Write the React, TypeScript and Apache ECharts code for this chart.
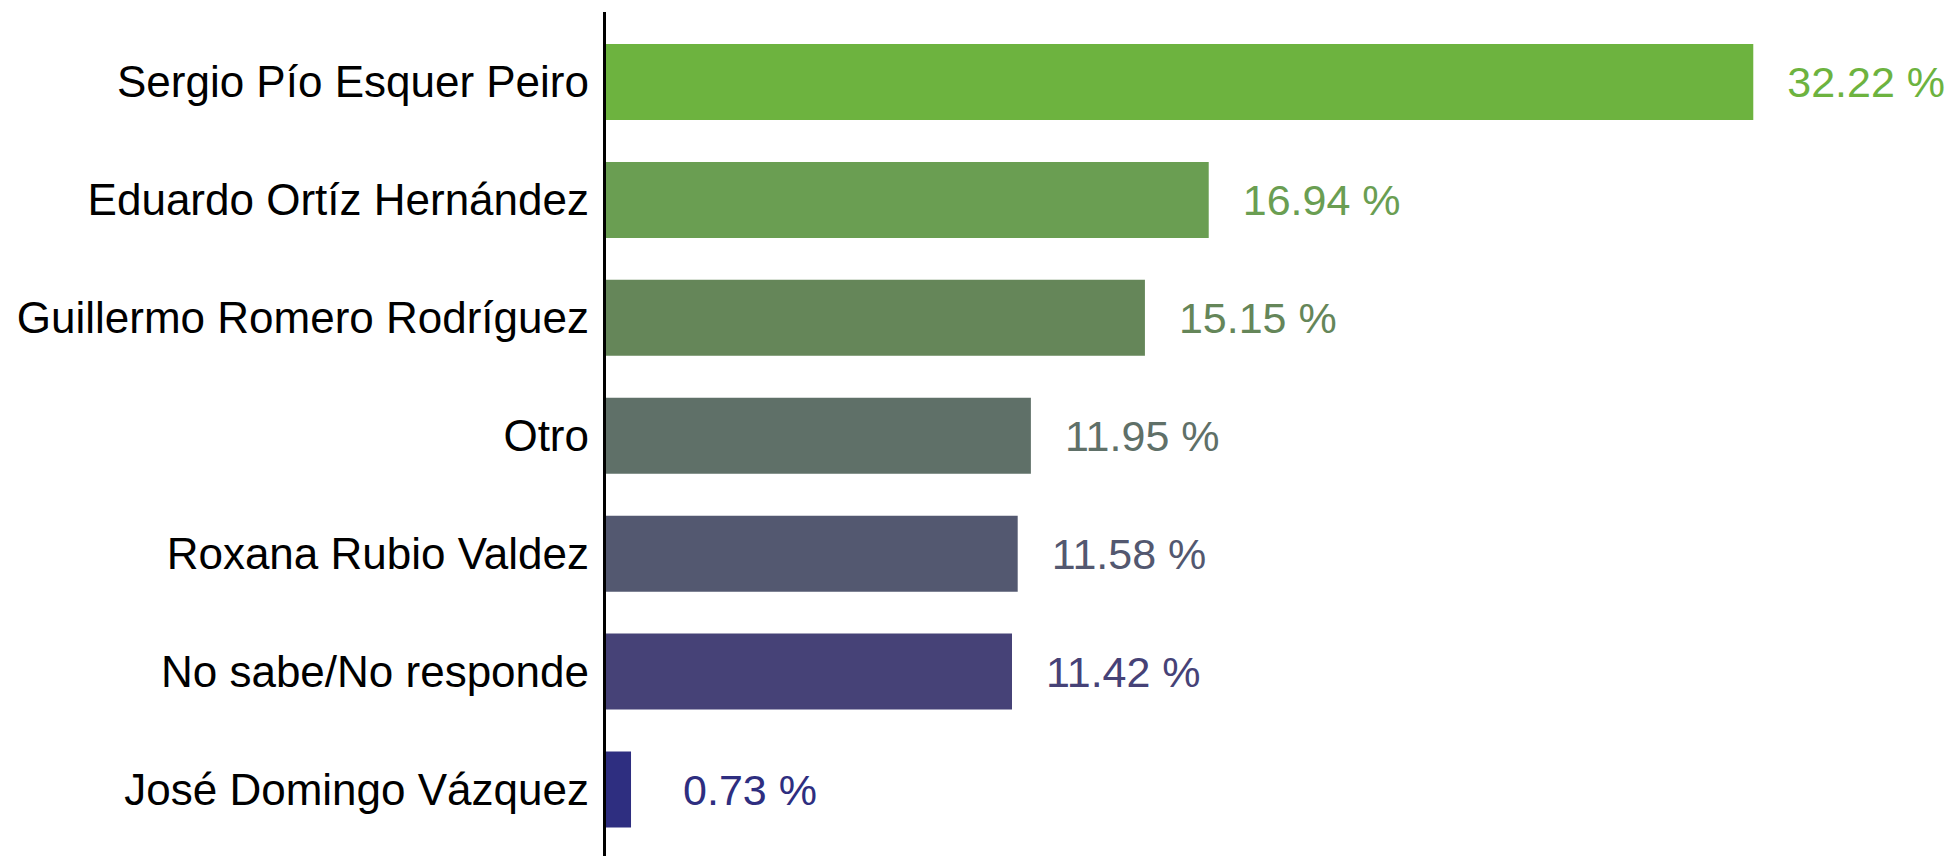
import React, { useEffect, useRef } from "react";
import * as echarts from "echarts";

const categories = [
  "Sergio Pío Esquer Peiro",
  "Eduardo Ortíz Hernández",
  "Guillermo Romero Rodríguez",
  "Otro",
  "Roxana Rubio Valdez",
  "No sabe/No responde",
  "José Domingo Vázquez",
];
const values = [32.22, 16.94, 15.15, 11.95, 11.58, 11.42, 0.73];
const colors = ["#6db33f", "#6a9e52", "#658659", "#5f7068", "#535870", "#464277", "#2e2e80"];
const labelGaps = [34, 34, 34, 34, 34, 34, 52];

export default function App() {
  const ref = useRef<HTMLDivElement>(null);
  useEffect(() => {
    if (!ref.current) return;
    const chart = echarts.init(ref.current, null, { renderer: "svg" });
    chart.setOption({
      animation: false,
      backgroundColor: "#ffffff",
      textStyle: { fontFamily: "Liberation Sans, Arial, sans-serif" },
      grid: { left: 605, right: 66, top: 23, bottom: 7.5, containLabel: false },
      xAxis: {
        type: "value",
        min: 0,
        max: 36,
        show: false,
      },
      yAxis: {
        type: "category",
        data: categories,
        inverse: true,
        axisLine: { show: false },
        axisTick: { show: false },
        axisLabel: {
          color: "#000000",
          fontSize: 44,
          margin: 16,
          fontFamily: "Liberation Sans, Arial, sans-serif",
        },
      },
      series: [
        {
          type: "bar",
          barWidth: 76,
          data: values.map((v, i) => ({
            value: v,
            itemStyle: { color: colors[i] },
            label: { color: colors[i], distance: labelGaps[i] },
          })),
          label: {
            show: true,
            position: "right",
            distance: 34,
            fontSize: 43,
            fontFamily: "Liberation Sans, Arial, sans-serif",
            formatter: (p: any) => p.value.toFixed(2) + " %",
          },
        },
      ],
      graphic: [
        {
          type: "line",
          shape: { x1: 604.5, y1: 12, x2: 604.5, y2: 856 },
          style: { stroke: "#000000", lineWidth: 3 },
          z: 10,
        },
      ],
    });
    return () => chart.dispose();
  }, []);
  return (
    <div
      ref={ref}
      style={{ position: "fixed", left: 0, top: 0, width: 1954, height: 856 }}
    />
  );
}
